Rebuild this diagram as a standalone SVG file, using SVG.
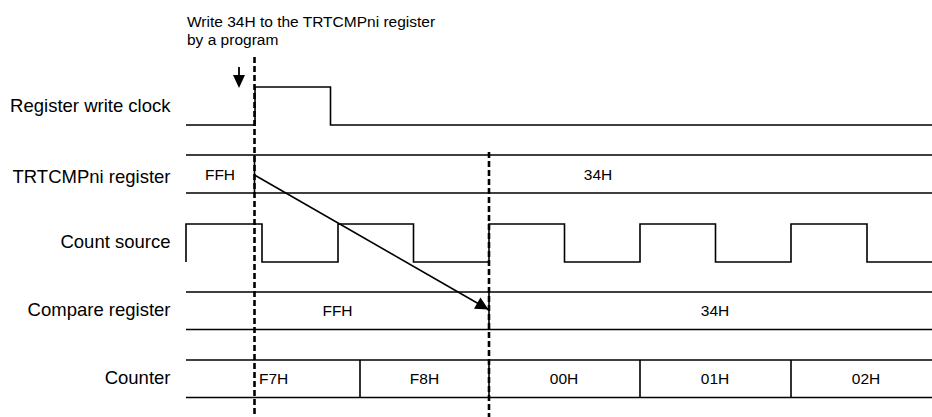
<svg xmlns="http://www.w3.org/2000/svg" width="932" height="417" viewBox="0 0 932 417">
<style>
text{font-family:"Liberation Sans",Arial,sans-serif;fill:#000}
.lbl{font-size:18.5px;text-anchor:end}
.val{font-size:15.5px;text-anchor:middle}
.note{font-size:15.5px}
.w{fill:none;stroke:#000;stroke-width:1.6}
.dash{fill:none;stroke:#000;stroke-width:2.6;stroke-dasharray:6 3}
</style>
<defs>
<marker id="ah" viewBox="0 0 10 10" refX="10" refY="5" markerWidth="17" markerHeight="13" markerUnits="userSpaceOnUse" orient="auto">
<path d="M0,0 L10,5 L0,10 z" fill="#000"/>
</marker>
</defs>
<rect width="932" height="417" fill="#fff"/>
<g id="note">
<text class="note" x="187" y="27">Write 34H to the TRTCMPni register</text>
<text class="note" x="187" y="45">by a program</text>
</g>
<g id="labels">
<text class="lbl" x="170.5" y="112">Register write clock</text>
<text class="lbl" x="170.5" y="183">TRTCMPni register</text>
<text class="lbl" x="170.5" y="248">Count source</text>
<text class="lbl" x="170.5" y="316">Compare register</text>
<text class="lbl" x="170.5" y="384">Counter</text>
</g>
<g id="write-clock">
<path class="w" d="M186,125 H255 V87 H330.5 V125 H932"/>
</g>
<g id="trtcmp-register">
<path class="w" d="M186,155 H932 M186,193 H932 M254.5,155 V193"/>
<text class="val" x="220" y="180">FFH</text>
<text class="val" x="598" y="180">34H</text>
</g>
<g id="count-source">
<path class="w" d="M186,262 V224 H262 V262 H338 V224 H413.5 V262 H489 V224 H564.5 V262 H640 V224 H715.5 V262 H791 V224 H867 V262 H932"/>
</g>
<g id="compare-register">
<path class="w" d="M186,292 H932 M186,329.5 H932 M489,292 V329.5"/>
<text class="val" x="337.5" y="316">FFH</text>
<text class="val" x="715" y="316">34H</text>
</g>
<g id="counter">
<path class="w" d="M186,360 H932 M186,397.5 H932 M360,360 V397.5 M489,360 V397.5 M640,360 V397.5 M791,360 V397.5"/>
<text class="note" x="259" y="384">F7H</text>
<text class="val" x="424.5" y="384">F8H</text>
<text class="val" x="564" y="384">00H</text>
<text class="val" x="715" y="384">01H</text>
<text class="val" x="866" y="384">02H</text>
</g>
<g id="connectors">
<path class="dash" d="M254.5,57 V417"/>
<path class="dash" d="M489,152 V417"/>
<path d="M239,67 V76" stroke="#000" stroke-width="1.8"/>
<path d="M233,75 L245,75 L239,88 z" fill="#000"/>
<path d="M254.5,175 L488.5,309.5" stroke="#000" stroke-width="1.6" marker-end="url(#ah)"/>
</g>
</svg>
